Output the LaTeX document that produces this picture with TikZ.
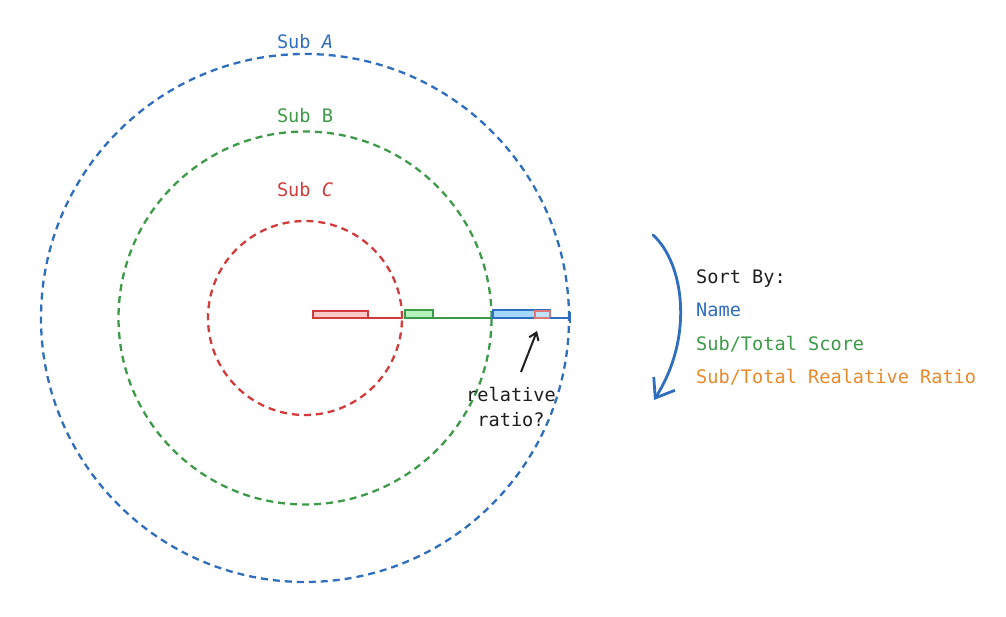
\documentclass[tikz,border=0pt]{standalone}
\usepackage{fontspec}
\setmonofont{DejaVu Sans Mono}
\usetikzlibrary{positioning,arrows.meta}

\definecolor{subblue}{HTML}{2F6EBF}
\definecolor{subgreen}{HTML}{3D9A48}
\definecolor{subred}{HTML}{D23B3B}
\definecolor{suborange}{HTML}{E8892A}
\definecolor{ink}{HTML}{1E1E1E}
\definecolor{fillred}{HTML}{FFC9C9}
\definecolor{fillgreen}{HTML}{B2F2BB}
\definecolor{fillblue}{HTML}{A5D8FF}

\tikzset{
  ring/.style={circle,draw=#1,line width=2.3pt,dash pattern=on 7pt off 5pt,inner sep=0pt},
  lbl/.style={font=\ttfamily\fontsize{18.6}{25}\selectfont,text=#1,inner sep=0pt},
  bar/.style={draw=#1,line width=1.2pt},
}

\begin{document}
\begin{tikzpicture}[x=1pt,y=-1pt]
      \useasboundingbox (0,0) rectangle (1006,617);
      \coordinate (c) at (305,318);
      % circles
      \node [ring=subblue,minimum size=528pt] (subA) at (c) {};
      \node [ring=subgreen,minimum size=373pt] (subB) at (c) {};
      \node [ring=subred,minimum size=194pt] (subC) at (c) {};
      \node [lbl=subblue] (labA) at (305,42) {Sub \textit{A}};
      \node [lbl=subgreen] (labB) at (305,116) {Sub B};
      \node [lbl=subred] (labC) at (305,190) {Sub \textit{C}};
      % bars
      \draw [bar=subred,fill=fillred] (313,311) rectangle (368,318);
      \draw [subred,line width=1.3pt] (368,318) -- (subC.east);
      \draw [bar=subgreen,fill=fillgreen] (405,310) rectangle (433,318);
      \draw [subgreen,line width=1.3pt] (433,318) -- (subB.east);
      \draw [bar=subblue,fill=fillblue] (493,310) rectangle (550,318);
      \draw [bar=subred!70,fill=fillblue!70] (535,311) rectangle (550,318);
      \draw [subblue,line width=1.3pt] (550,318) -- (subA.east);
      \draw [subblue,line width=1.8pt] (570,312) -- (570,323);
      % relative ratio
      \node [lbl=ink,align=center] (ratio) at (511,407) {relative\\ratio?};
      \coordinate (tail) at (521,372);
      \coordinate (tip) at (537,331);
      \draw [ink,line width=2pt,-{Straight Barb[length=7pt,width=10pt]}] (tail) -- (tip);
      % sort by
      \node [lbl=ink,anchor=base west] (sort) at (696,284) {Sort By:};
      \node [lbl=subblue,anchor=base west] (name) at ([yshift=-33pt]sort.base west) {Name};
      \node [lbl=subgreen,anchor=base west] (score) at ([yshift=-33pt]name.base west) {Sub/Total Score};
      \node [lbl=suborange,anchor=base west] (rel) at ([yshift=-33pt]score.base west) {Sub/Total Realative Ratio};
      \coordinate (s0) at (653,235);
      \coordinate (s1) at (654,400);
      \draw [subblue,line width=2.8pt,line cap=round,-{Straight Barb[length=17pt,width=25pt]}] (s0) .. controls (683,262) and (695,335) .. (s1);
    \end{tikzpicture}
\end{document}
